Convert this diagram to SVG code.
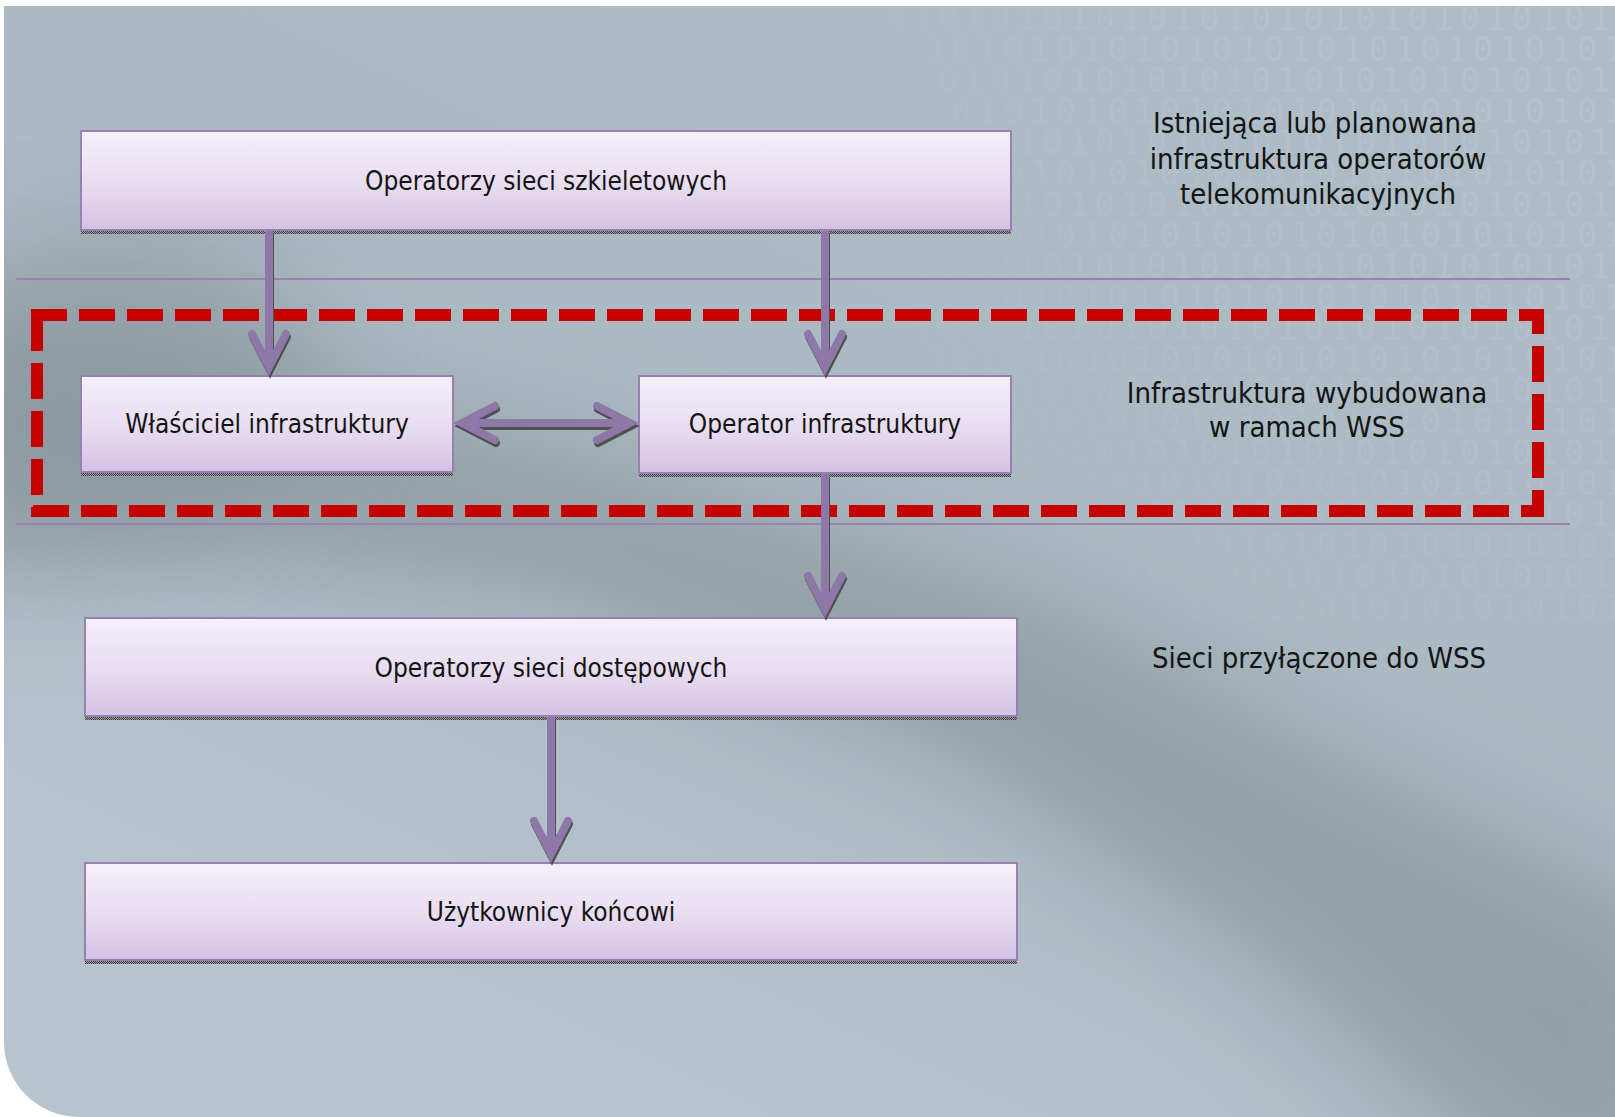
<svg xmlns="http://www.w3.org/2000/svg" width="1615" height="1117" viewBox="0 0 1615 1117">
<style>
.t { font-family: "DejaVu Sans Condensed", "DejaVu Sans", sans-serif; font-size: 26px; fill: #141414; text-anchor: middle; }
.lbl { font-size: 29px; }
.box { fill: url(#boxGrad); stroke: #9a80b2; stroke-width: 2; }
.shadow { fill: url(#stip); }
.sep { stroke: #9883ae; stroke-width: 2; fill: none; }
.dash { stroke: #c40000; stroke-width: 12; fill: none; stroke-dasharray: 36 12; }
.conn { stroke: #8e78a8; stroke-width: 8; fill: none; }
.dig { font-family: "DejaVu Sans Mono", monospace; font-size: 34px; letter-spacing: 5.6px; fill: #ffffff; fill-opacity: 0.1; }
</style>
<defs>
  <linearGradient id="bgGrad" gradientUnits="userSpaceOnUse" x1="1100" y1="0" x2="600" y2="1117">
    <stop offset="0" stop-color="#aebcc6"/>
    <stop offset="0.45" stop-color="#abb9c2"/>
    <stop offset="1" stop-color="#b8c4cd"/>
  </linearGradient>
  <linearGradient id="boxGrad" x1="0" y1="0" x2="0" y2="1">
    <stop offset="0" stop-color="#f4f0f9"/>
    <stop offset="0.55" stop-color="#e7dcf0"/>
    <stop offset="1" stop-color="#d4c1e4"/>
  </linearGradient>
  <radialGradient id="digitFade" gradientUnits="userSpaceOnUse" cx="1615" cy="0" r="850">
    <stop offset="0" stop-color="#fff" stop-opacity="1"/>
    <stop offset="0.6" stop-color="#fff" stop-opacity="0.6"/>
    <stop offset="1" stop-color="#fff" stop-opacity="0"/>
  </radialGradient>
  <mask id="digitMask"><rect width="1615" height="1117" fill="url(#digitFade)"/></mask>
  <filter id="blur" x="-30%" y="-30%" width="160%" height="160%"><feGaussianBlur stdDeviation="55"/></filter>
  <clipPath id="panelClip"><path d="M4,6 H1615 V1117 H79 A75,75 0 0 1 4,1042 Z"/></clipPath>
  <pattern id="stip" width="2" height="2" patternUnits="userSpaceOnUse">
    <rect width="2" height="2" fill="#a0a0a0"/>
    <rect width="1" height="1" fill="#3c3c3c"/>
    <rect x="1" y="1" width="1" height="1" fill="#3c3c3c"/>
  </pattern>
  <marker id="chev" markerUnits="userSpaceOnUse" orient="auto-start-reverse" overflow="visible" refX="0" refY="0" markerWidth="1" markerHeight="1">
    <path d="M-32,-17 L1,0 L-32,17" fill="none" stroke="#8e78a8" stroke-width="8" stroke-linecap="round" stroke-linejoin="miter" stroke-miterlimit="10"/>
  </marker>
  <filter id="ashadow" x="-20%" y="-20%" width="140%" height="140%">
    <feOffset in="SourceAlpha" dx="1" dy="3" result="o"/>
    <feFlood flood-color="#505050"/>
    <feComposite in2="o" operator="in" result="s"/>
    <feMerge><feMergeNode in="s"/><feMergeNode in="SourceGraphic"/></feMerge>
  </filter>
</defs>

<!-- background -->
<rect width="1615" height="1117" fill="#ffffff"/>
<g id="background" clip-path="url(#panelClip)">
  <rect width="1615" height="1117" fill="url(#bgGrad)"/>
  <path d="M-80,300 L250,360 L650,470 L1050,600 L1350,760 L1700,930 L1700,1250 L1500,1180 L1250,960 L950,760 L550,600 L200,560 L-80,580 Z" fill="#88959c" opacity="0.72" filter="url(#blur)"/>
  <ellipse cx="120" cy="380" rx="200" ry="150" fill="#88959c" opacity="0.6" filter="url(#blur)"/>
  <g id="binary-texture" mask="url(#digitMask)">
    <text class="dig" x="860" y="30">101010101010101010101010101010</text>
    <text class="dig" x="847" y="61">010101010101010101010101010101</text>
    <text class="dig" x="860" y="92">101010101010101010101010101010</text>
    <text class="dig" x="847" y="123">010101010101010101010101010101</text>
    <text class="dig" x="860" y="154">101010101010101010101010101010</text>
    <text class="dig" x="847" y="185">010101010101010101010101010101</text>
    <text class="dig" x="860" y="216">101010101010101010101010101010</text>
    <text class="dig" x="847" y="247">010101010101010101010101010101</text>
    <text class="dig" x="860" y="278">101010101010101010101010101010</text>
    <text class="dig" x="847" y="309">010101010101010101010101010101</text>
    <text class="dig" x="860" y="340">101010101010101010101010101010</text>
    <text class="dig" x="847" y="371">010101010101010101010101010101</text>
    <text class="dig" x="860" y="402">101010101010101010101010101010</text>
    <text class="dig" x="847" y="433">010101010101010101010101010101</text>
    <text class="dig" x="860" y="464">101010101010101010101010101010</text>
    <text class="dig" x="847" y="495">010101010101010101010101010101</text>
    <text class="dig" x="860" y="526">101010101010101010101010101010</text>
    <text class="dig" x="847" y="557">010101010101010101010101010101</text>
    <text class="dig" x="860" y="588">101010101010101010101010101010</text>
    <text class="dig" x="847" y="619">010101010101010101010101010101</text>
  </g>
</g>

<!-- separators -->
<g id="separators">
  <line class="sep" x1="16" y1="279" x2="1570" y2="279"/>
  <line class="sep" x1="16" y1="524" x2="1570" y2="524"/>
</g>

<!-- dashed region -->
<g id="wss-region">
  <line class="dash" x1="31" y1="315" x2="1544" y2="315"/>
  <line class="dash" x1="1538" y1="310" x2="1538" y2="517" style="stroke-dashoffset:12"/>
  <line class="dash" x1="33" y1="511" x2="1544" y2="511"/>
  <line class="dash" x1="37" y1="315" x2="37" y2="517"/>
</g>

<!-- nodes -->
<g id="node-szkieletowe">
  <rect class="shadow" x="81" y="135" width="930" height="99"/>
  <rect class="box" x="81" y="131" width="930" height="99"/>
  <text class="t" x="546" y="190">Operatorzy sieci szkieletowych</text>
</g>
<g id="node-wlasciciel">
  <rect class="shadow" x="81" y="380" width="372" height="96"/>
  <rect class="box" x="81" y="376" width="372" height="96"/>
  <text class="t" x="267" y="433">Właściciel infrastruktury</text>
</g>
<g id="node-operator">
  <rect class="shadow" x="639" y="380" width="372" height="97"/>
  <rect class="box" x="639" y="376" width="372" height="97"/>
  <text class="t" x="825" y="433">Operator infrastruktury</text>
</g>
<g id="node-dostepowe">
  <rect class="shadow" x="85" y="622" width="932" height="98"/>
  <rect class="box" x="85" y="618" width="932" height="98"/>
  <text class="t" x="551" y="677">Operatorzy sieci dostępowych</text>
</g>
<g id="node-uzytkownicy">
  <rect class="shadow" x="85" y="867" width="932" height="97"/>
  <rect class="box" x="85" y="863" width="932" height="97"/>
  <text class="t" x="551" y="921">Użytkownicy końcowi</text>
</g>

<!-- connectors -->
<g id="connectors" filter="url(#ashadow)">
  <path class="conn" d="M269,231 V366" marker-end="url(#chev)"/>
  <path class="conn" d="M825,231 V366" marker-end="url(#chev)"/>
  <path class="conn" d="M825,474 V608" marker-end="url(#chev)"/>
  <path class="conn" d="M551,717 V853" marker-end="url(#chev)"/>
  <path class="conn" d="M463,423 H629" marker-start="url(#chev)" marker-end="url(#chev)"/>
</g>

<!-- layer labels -->
<g id="label-istniejaca">
  <text class="t lbl" x="1315" y="133">Istniejąca lub planowana</text>
  <text class="t lbl" x="1318" y="169">infrastruktura operatorów</text>
  <text class="t lbl" x="1318" y="204">telekomunikacyjnych</text>
</g>
<g id="label-wss">
  <text class="t lbl" x="1307" y="403">Infrastruktura wybudowana</text>
  <text class="t lbl" x="1307" y="437">w ramach WSS</text>
</g>
<g id="label-przylaczone">
  <text class="t lbl" x="1319" y="668">Sieci przyłączone do WSS</text>
</g>
</svg>
